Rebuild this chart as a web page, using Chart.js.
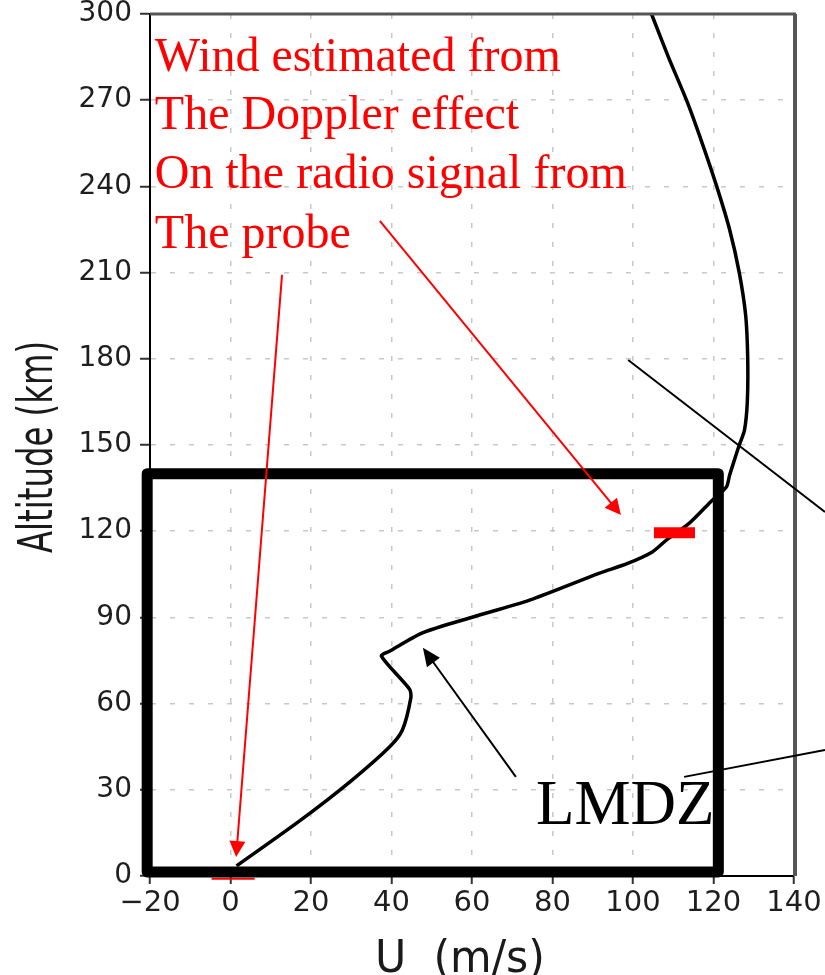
<!DOCTYPE html>
<html>
<head>
<meta charset="utf-8">
<script src="https://cdn.jsdelivr.net/npm/chart.js@4.4.0/dist/chart.umd.min.js"></script>
<style>
  body { margin: 0; background: #fff; }
</style>
</head>
<body>
<canvas id="windChart" width="825" height="975"></canvas>
<script>
// zonal wind U (m/s) against altitude (km)
const windU = [1.5, 17, 29.6, 39.5, 42.7, 44.8, 44.5, 37.5, 39.5, 47.7, 59.4, 74.3, 91.7, 98.5,
    104.8, 108.3, 114, 119.7, 123.2, 124, 125.2, 126.4, 127.7, 128.4, 128.5, 128, 126.4, 124, 120.8,
    117.2, 113.3, 108.8, 104.6];
const altitudeKm = [3.5, 19, 32.7, 44.9, 50.8, 62, 65, 76.5, 78.2, 84.6, 89.8, 96, 105.4, 108.7,
    112.8, 116.9, 122.8, 130.8, 135.4, 139.5, 144.8, 150, 155.2, 165, 180, 195, 210, 225, 240,
    255, 270, 285, 300];

const xTicks = [-20, 0, 20, 40, 60, 80, 100, 120, 140];
const yTicks = [0, 30, 60, 90, 120, 150, 180, 210, 240, 270, 300];

const noteLines = ['Wind estimated from', 'The Doppler effect', 'On the radio signal from', 'The probe'];
const modelLabel = 'LMDZ';

function minusLabel(v) {
    return v < 0 ? '\u2212' + Math.abs(v) : String(v);
}

function arrow(ctx, x1, y1, x2, y2, color, width, headLen, headHalf) {
    const ang = Math.atan2(y2 - y1, x2 - x1);
    ctx.strokeStyle = color;
    ctx.fillStyle = color;
    ctx.lineWidth = width;
    ctx.beginPath();
    ctx.moveTo(x1, y1);
    ctx.lineTo(x2 - headLen * 0.8 * Math.cos(ang), y2 - headLen * 0.8 * Math.sin(ang));
    ctx.stroke();
    if (headLen > 0) {
        const bx = x2 - headLen * Math.cos(ang), by = y2 - headLen * Math.sin(ang);
        ctx.beginPath();
        ctx.moveTo(x2, y2);
        ctx.lineTo(bx + headHalf * Math.sin(ang), by - headHalf * Math.cos(ang));
        ctx.lineTo(bx - headHalf * Math.sin(ang), by + headHalf * Math.cos(ang));
        ctx.closePath();
        ctx.fill();
    }
}

// squeezed axis titles like the original plotting font
function fitText(ctx, text, x, y, width, rotated, font) {
    ctx.save();
    ctx.font = font;
    const w = ctx.measureText(text).width;
    ctx.translate(x, y);
    if (rotated) ctx.rotate(-Math.PI / 2);
    ctx.scale(width / w, 1);
    ctx.textAlign = 'center';
    ctx.textBaseline = 'alphabetic';
    ctx.fillStyle = '#1a1a1a';
    ctx.fillText(text, 0, 0);
    ctx.restore();
}

const annotations = {
    id: 'annotations',
    afterDraw(chart) {
        const ctx = chart.ctx;
        const a = chart.chartArea;
        const px = v => chart.scales.x.getPixelForValue(v);
        const py = v => chart.scales.y.getPixelForValue(v);
        ctx.save();

        // frame top and right
        ctx.strokeStyle = '#555';
        ctx.lineWidth = 3;
        ctx.beginPath();
        ctx.moveTo(a.left, a.top);
        ctx.lineTo(a.right + 2, a.top);
        ctx.stroke();
        ctx.lineWidth = 4;
        ctx.beginPath();
        ctx.moveTo(a.right + 1, a.top);
        ctx.lineTo(a.right + 1, a.bottom);
        ctx.stroke();

        // red marks at the surface and at 120 km
        ctx.strokeStyle = '#ff0000';
        ctx.lineWidth = 2;
        ctx.beginPath();
        ctx.moveTo(px(-4.7), py(-1));
        ctx.lineTo(px(6), py(-1));
        ctx.stroke();
        ctx.lineWidth = 11;
        ctx.beginPath();
        ctx.moveTo(px(105.2), py(119.5));
        ctx.lineTo(px(115.4), py(119.5));
        ctx.stroke();

        // LMDZ box
        ctx.strokeStyle = '#000';
        ctx.lineWidth = 11;
        ctx.lineJoin = 'round';
        ctx.strokeRect(px(-20.7), py(140), px(121.2) - px(-20.7), py(1.4) - py(140));

        // red note
        ctx.fillStyle = '#ff0000';
        ctx.font = '48px "Liberation Serif"';
        ctx.textAlign = 'left';
        ctx.textBaseline = 'alphabetic';
        const noteY = [280.2, 260, 239.4, 218.6];
        noteLines.forEach((t, i) => ctx.fillText(t, px(-18.8), py(noteY[i])));

        arrow(ctx, px(12.8), py(209.2), px(1.4), py(6.6), '#ff0000', 2, 16, 8);
        arrow(ctx, px(37.1), py(228), px(97.0), py(125.6), '#ff0000', 2, 16, 8);

        // model label and pointers
        ctx.fillStyle = '#000';
        ctx.font = '63px "Liberation Serif"';
        ctx.fillText(modelLabel, px(75.9), py(18.1));
        arrow(ctx, px(70.9), py(34.5), px(47.8), py(79.4), '#000', 2, 18, 8);
        arrow(ctx, px(98.8), py(179.6), px(147.7), py(126.7), '#000', 2, 0, 0);
        arrow(ctx, px(112.7), py(34.5), px(147.7), py(43.9), '#000', 2, 0, 0);

        // axis titles
        fitText(ctx, 'Altitude (km)', 52, 447, 212, true, '48px "DejaVu Sans"');
        fitText(ctx, 'U  (m/s)', 460, 972, 170, false, '45px "DejaVu Sans"');
        ctx.restore();
    }
};

const points = windU.map((u, i) => ({ x: u, y: altitudeKm[i] }));

new Chart(document.getElementById('windChart').getContext('2d'), {
    type: 'scatter',
    data: {
        datasets: [{
            data: points,
            showLine: true,
            borderColor: '#000',
            borderWidth: 3.5,
            pointRadius: 0,
            tension: 0.25,
            fill: false
        }]
    },
    options: {
        responsive: false,
        animation: false,
        devicePixelRatio: 1,
        layout: { padding: { top: 14, right: 31, left: 0, bottom: 0 } },
        plugins: {
            legend: { display: false },
            tooltip: { enabled: false }
        },
        scales: {
            x: {
                type: 'linear',
                min: -20,
                max: 140,
                afterBuildTicks: scale => { scale.ticks = xTicks.map(v => ({ value: v })); },
                afterFit: scale => {
                    scale.height = 99;
                    scale.paddingLeft = 0;
                    scale.paddingRight = 0;
                },
                grid: {
                    color: '#c8c8c8',
                    lineWidth: 1.5,
                    tickColor: '#333',
                    tickLength: 8,
                    tickWidth: 2
                },
                border: { color: '#000', width: 2, dash: [5, 14] },
                ticks: {
                    autoSkip: false,
                    maxRotation: 0,
                    padding: 2,
                    color: '#1e1e1e',
                    font: { family: 'DejaVu Sans', size: 29 },
                    callback: minusLabel
                }
            },
            y: {
                type: 'linear',
                min: 0,
                max: 300,
                afterBuildTicks: scale => { scale.ticks = yTicks.map(v => ({ value: v })); },
                afterFit: scale => {
                    scale.width = 150;
                    scale.paddingTop = 0;
                    scale.paddingBottom = 0;
                },
                grid: {
                    color: '#c8c8c8',
                    lineWidth: 1.5,
                    tickColor: '#333',
                    tickLength: 10,
                    tickWidth: 2
                },
                border: { color: '#000', width: 2, dash: [5, 14] },
                ticks: {
                    autoSkip: false,
                    padding: 8,
                    color: '#1e1e1e',
                    font: { family: 'DejaVu Sans', size: 28 },
                    callback: minusLabel
                }
            }
        }
    },
    plugins: [annotations]
});
</script>
</body>
</html>
